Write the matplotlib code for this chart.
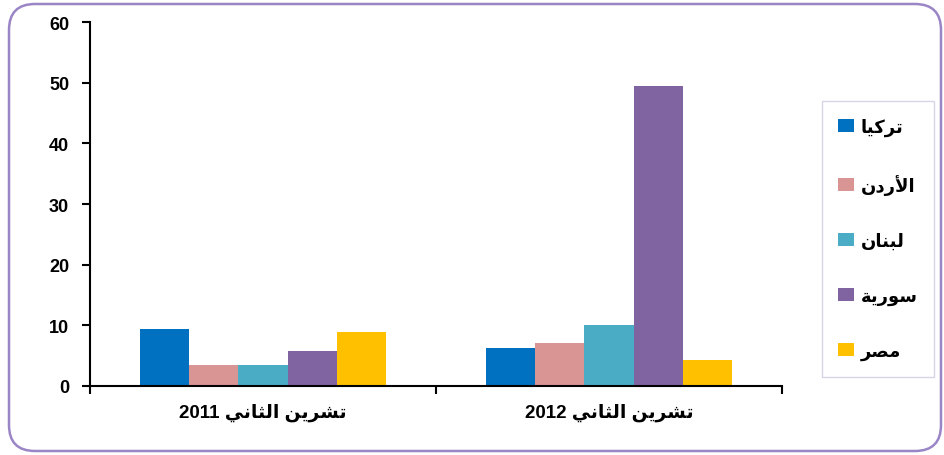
import matplotlib
matplotlib.use("Agg")
import matplotlib.pyplot as plt
import numpy as np
from matplotlib.patches import FancyBboxPatch
from matplotlib.transforms import IdentityTransform


# arabic strings are written in presentation forms, logical order, then reversed for display
def vis(s):
    return s[::-1]

TISHREEN = "\uFE97\uFEB8\uFEAE\uFEF3\uFEE6"          # تشرين
THANI = "\uFE8D\uFEDF\uFE9C\uFE8E\uFEE7\uFEF2"       # الثاني
CATEGORIES = ["2011 " + vis(TISHREEN + " " + THANI),
              "2012 " + vis(TISHREEN + " " + THANI)]

COUNTRIES = [vis("\uFE97\uFEAE\uFEDB\uFEF4\uFE8E"),   # تركيا
             vis("\uFE8D\uFEF7\uFEAD\uFEA9\uFEE5"),   # الأردن
             vis("\uFEDF\uFE92\uFEE8\uFE8E\uFEE5"),   # لبنان
             vis("\uFEB3\uFEEE\uFEAD\uFEF3\uFE94"),   # سورية
             vis("\uFEE3\uFEBC\uFEAE")]               # مصر

VALUES = {
    "turkey":  [9.4, 6.3],
    "jordan":  [3.5, 7.1],
    "lebanon": [3.5, 10.1],
    "syria":   [5.8, 49.4],
    "egypt":   [8.9, 4.3],
}
COLORS = ["#0070C0", "#D99594", "#4BACC6", "#8064A2", "#FFC000"]
YTICKS = [0, 10, 20, 30, 40, 50, 60]

plt.rcParams["font.family"] = ["Liberation Sans", "DejaVu Sans"]
plt.rcParams["font.weight"] = "bold"

fig = plt.figure(figsize=(9.44, 4.56), dpi=100)
ax = fig.add_axes([90 / 944, 69 / 456, 692 / 944, 364 / 456])

# bars
x = np.arange(len(CATEGORIES))
w = 0.1422
for j, (key, name, col) in enumerate(zip(VALUES, COUNTRIES, COLORS)):
    ax.bar(x + (j - 2) * w, VALUES[key], width=w, color=col, label=name, zorder=2)

ax.set_xlim(-0.5, 1.5)
ax.set_ylim(0, 60)
ax.set_yticks(YTICKS)
ax.set_xticks(x)
ax.set_xticklabels(CATEGORIES, fontsize=13.5, fontweight="bold")
ax.set_xticks([-0.5, 0.5, 1.5], minor=True)
ax.tick_params(axis="x", which="major", length=0, pad=12)
ax.tick_params(axis="x", which="minor", length=6, width=1.5, direction="out")
ax.tick_params(axis="y", length=6, width=1.5, pad=9, labelsize=13)
for lbl in ax.get_yticklabels():
    lbl.set_fontweight("bold")

for s in ["top", "right"]:
    ax.spines[s].set_visible(False)
for s in ["left", "bottom"]:
    ax.spines[s].set_linewidth(1.5)
    ax.spines[s].set_color("black")

# legend
leg = fig.legend(loc="center", bbox_to_anchor=(878 / 944, 1 - 240 / 456),
                 fontsize=13, labelspacing=2.1, handlelength=0.85, handleheight=0.75,
                 handletextpad=0.4, borderpad=0.9, borderaxespad=0,
                 fancybox=False, frameon=True)
leg.get_frame().set_edgecolor("#D0C8E0")
leg.get_frame().set_linewidth(1.0)
for t in leg.get_texts():
    t.set_fontweight("bold")

# outer rounded frame
frame = FancyBboxPatch((9, 4), 932, 447, boxstyle="round,pad=0,rounding_size=26",
                       transform=IdentityTransform(), facecolor="none",
                       edgecolor="#9A86C6", linewidth=1.8)
fig.add_artist(frame)

fig.savefig("out.png", dpi=100)
